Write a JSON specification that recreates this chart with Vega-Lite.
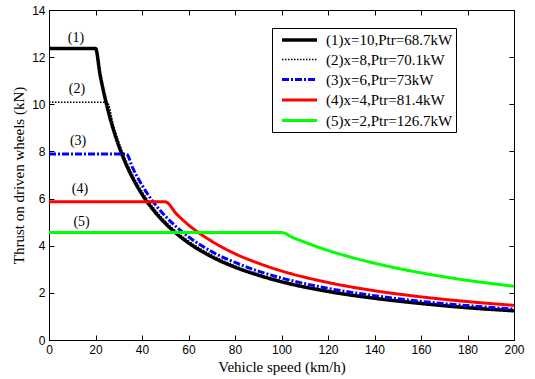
{
  "$schema": "https://vega.github.io/schema/vega-lite/v6.json",
  "width": 465,
  "height": 330,
  "autosize": {"type": "none"},
  "padding": {"left": 49, "top": 10, "right": 21, "bottom": 39},
  "background": "white",
  "config": {
    "view": {"stroke": "black", "strokeWidth": 1},
    "axis": {
      "domainColor": "black", "tickColor": "black", "labelColor": "black", "titleColor": "black",
      "grid": false, "tickSize": -5, "labelFont": "Liberation Sans", "labelFontSize": 12, "labelFlush": false, "labelOverlap": false,
      "titleFont": "Liberation Serif", "titleFontSize": 14, "titleFontWeight": "normal", "labelPadding": 9
    },
    "legend": {
      "labelFont": "Liberation Serif", "labelFontSize": 15, "labelColor": "black",
      "symbolType": "M-1,0H4", "symbolSize": 196, "labelOffset": 28, "padding": 3, "symbolOffset": 5, "rowPadding": 3.5
    }
  },
  "resolve": {"axis": {"x": "independent", "y": "independent"}},
  "datasets": {
    "curves": [
      {"s": "(1)x=10,Ptr=68.7kW", "v": 0, "t": 12.37},
      {"s": "(1)x=10,Ptr=68.7kW", "v": 20, "t": 12.37},
      {"s": "(1)x=10,Ptr=68.7kW", "v": 22, "t": 11.24},
      {"s": "(1)x=10,Ptr=68.7kW", "v": 24, "t": 10.31},
      {"s": "(1)x=10,Ptr=68.7kW", "v": 26, "t": 9.51},
      {"s": "(1)x=10,Ptr=68.7kW", "v": 28, "t": 8.83},
      {"s": "(1)x=10,Ptr=68.7kW", "v": 30, "t": 8.24},
      {"s": "(1)x=10,Ptr=68.7kW", "v": 33, "t": 7.49},
      {"s": "(1)x=10,Ptr=68.7kW", "v": 36, "t": 6.87},
      {"s": "(1)x=10,Ptr=68.7kW", "v": 40, "t": 6.18},
      {"s": "(1)x=10,Ptr=68.7kW", "v": 45, "t": 5.50},
      {"s": "(1)x=10,Ptr=68.7kW", "v": 50, "t": 4.95},
      {"s": "(1)x=10,Ptr=68.7kW", "v": 55, "t": 4.50},
      {"s": "(1)x=10,Ptr=68.7kW", "v": 60, "t": 4.12},
      {"s": "(1)x=10,Ptr=68.7kW", "v": 70, "t": 3.53},
      {"s": "(1)x=10,Ptr=68.7kW", "v": 80, "t": 3.09},
      {"s": "(1)x=10,Ptr=68.7kW", "v": 90, "t": 2.75},
      {"s": "(1)x=10,Ptr=68.7kW", "v": 100, "t": 2.47},
      {"s": "(1)x=10,Ptr=68.7kW", "v": 120, "t": 2.06},
      {"s": "(1)x=10,Ptr=68.7kW", "v": 140, "t": 1.77},
      {"s": "(1)x=10,Ptr=68.7kW", "v": 160, "t": 1.55},
      {"s": "(1)x=10,Ptr=68.7kW", "v": 180, "t": 1.37},
      {"s": "(1)x=10,Ptr=68.7kW", "v": 200, "t": 1.24},

      {"s": "(2)x=8,Ptr=70.1kW", "v": 0, "t": 10.09},
      {"s": "(2)x=8,Ptr=70.1kW", "v": 25, "t": 10.09},
      {"s": "(2)x=8,Ptr=70.1kW", "v": 28, "t": 9.01},
      {"s": "(2)x=8,Ptr=70.1kW", "v": 30, "t": 8.41},
      {"s": "(2)x=8,Ptr=70.1kW", "v": 33, "t": 7.65},
      {"s": "(2)x=8,Ptr=70.1kW", "v": 36, "t": 7.01},
      {"s": "(2)x=8,Ptr=70.1kW", "v": 40, "t": 6.31},
      {"s": "(2)x=8,Ptr=70.1kW", "v": 45, "t": 5.61},
      {"s": "(2)x=8,Ptr=70.1kW", "v": 50, "t": 5.05},
      {"s": "(2)x=8,Ptr=70.1kW", "v": 55, "t": 4.59},
      {"s": "(2)x=8,Ptr=70.1kW", "v": 60, "t": 4.21},
      {"s": "(2)x=8,Ptr=70.1kW", "v": 70, "t": 3.61},
      {"s": "(2)x=8,Ptr=70.1kW", "v": 80, "t": 3.15},
      {"s": "(2)x=8,Ptr=70.1kW", "v": 90, "t": 2.80},
      {"s": "(2)x=8,Ptr=70.1kW", "v": 100, "t": 2.52},
      {"s": "(2)x=8,Ptr=70.1kW", "v": 120, "t": 2.10},
      {"s": "(2)x=8,Ptr=70.1kW", "v": 140, "t": 1.80},
      {"s": "(2)x=8,Ptr=70.1kW", "v": 160, "t": 1.58},
      {"s": "(2)x=8,Ptr=70.1kW", "v": 180, "t": 1.40},
      {"s": "(2)x=8,Ptr=70.1kW", "v": 200, "t": 1.26},

      {"s": "(3)x=6,Ptr=73kW", "v": 0, "t": 7.89},
      {"s": "(3)x=6,Ptr=73kW", "v": 33.3, "t": 7.89},
      {"s": "(3)x=6,Ptr=73kW", "v": 36, "t": 7.30},
      {"s": "(3)x=6,Ptr=73kW", "v": 40, "t": 6.57},
      {"s": "(3)x=6,Ptr=73kW", "v": 45, "t": 5.84},
      {"s": "(3)x=6,Ptr=73kW", "v": 50, "t": 5.26},
      {"s": "(3)x=6,Ptr=73kW", "v": 55, "t": 4.78},
      {"s": "(3)x=6,Ptr=73kW", "v": 60, "t": 4.38},
      {"s": "(3)x=6,Ptr=73kW", "v": 70, "t": 3.75},
      {"s": "(3)x=6,Ptr=73kW", "v": 80, "t": 3.29},
      {"s": "(3)x=6,Ptr=73kW", "v": 90, "t": 2.92},
      {"s": "(3)x=6,Ptr=73kW", "v": 100, "t": 2.63},
      {"s": "(3)x=6,Ptr=73kW", "v": 120, "t": 2.19},
      {"s": "(3)x=6,Ptr=73kW", "v": 140, "t": 1.88},
      {"s": "(3)x=6,Ptr=73kW", "v": 160, "t": 1.64},
      {"s": "(3)x=6,Ptr=73kW", "v": 180, "t": 1.46},
      {"s": "(3)x=6,Ptr=73kW", "v": 200, "t": 1.31},

      {"s": "(4)x=4,Ptr=81.4kW", "v": 0, "t": 5.86},
      {"s": "(4)x=4,Ptr=81.4kW", "v": 50, "t": 5.86},
      {"s": "(4)x=4,Ptr=81.4kW", "v": 55, "t": 5.33},
      {"s": "(4)x=4,Ptr=81.4kW", "v": 60, "t": 4.88},
      {"s": "(4)x=4,Ptr=81.4kW", "v": 65, "t": 4.51},
      {"s": "(4)x=4,Ptr=81.4kW", "v": 70, "t": 4.19},
      {"s": "(4)x=4,Ptr=81.4kW", "v": 80, "t": 3.66},
      {"s": "(4)x=4,Ptr=81.4kW", "v": 90, "t": 3.26},
      {"s": "(4)x=4,Ptr=81.4kW", "v": 100, "t": 2.93},
      {"s": "(4)x=4,Ptr=81.4kW", "v": 120, "t": 2.44},
      {"s": "(4)x=4,Ptr=81.4kW", "v": 140, "t": 2.09},
      {"s": "(4)x=4,Ptr=81.4kW", "v": 160, "t": 1.83},
      {"s": "(4)x=4,Ptr=81.4kW", "v": 180, "t": 1.63},
      {"s": "(4)x=4,Ptr=81.4kW", "v": 200, "t": 1.47},

      {"s": "(5)x=2,Ptr=126.7kW", "v": 0, "t": 4.56},
      {"s": "(5)x=2,Ptr=126.7kW", "v": 100, "t": 4.56},
      {"s": "(5)x=2,Ptr=126.7kW", "v": 105, "t": 4.34},
      {"s": "(5)x=2,Ptr=126.7kW", "v": 110, "t": 4.15},
      {"s": "(5)x=2,Ptr=126.7kW", "v": 120, "t": 3.80},
      {"s": "(5)x=2,Ptr=126.7kW", "v": 130, "t": 3.51},
      {"s": "(5)x=2,Ptr=126.7kW", "v": 140, "t": 3.26},
      {"s": "(5)x=2,Ptr=126.7kW", "v": 150, "t": 3.04},
      {"s": "(5)x=2,Ptr=126.7kW", "v": 160, "t": 2.85},
      {"s": "(5)x=2,Ptr=126.7kW", "v": 170, "t": 2.68},
      {"s": "(5)x=2,Ptr=126.7kW", "v": 180, "t": 2.53},
      {"s": "(5)x=2,Ptr=126.7kW", "v": 190, "t": 2.40},
      {"s": "(5)x=2,Ptr=126.7kW", "v": 200, "t": 2.28}
    ],
    "labels": [
      {"lab": "(1)", "v": 11.6, "t": 12.8},
      {"lab": "(2)", "v": 12.0, "t": 10.63},
      {"lab": "(3)", "v": 12.5, "t": 8.43},
      {"lab": "(4)", "v": 13.3, "t": 6.39},
      {"lab": "(5)", "v": 14.0, "t": 5.0}
    ]
  },
  "layer": [
    {
      "data": {"name": "curves"},
      "mark": {"type": "line", "interpolate": "monotone", "clip": true},
      "encoding": {
        "x": {"field": "v", "type": "quantitative", "scale": {"domain": [0, 200], "nice": false},
              "axis": {"orient": "bottom", "title": "Vehicle speed (km/h)", "titleFont": "Liberation Serif", "titleFontWeight": "normal", "titleFontSize": 15,
                       "labelFlush": false, "values": [0,20,40,60,80,100,120,140,160,180,200], "titlePadding": 4}},
        "y": {"field": "t", "type": "quantitative", "scale": {"domain": [0, 14], "nice": false},
              "axis": {"orient": "left", "title": "Thrust on driven wheels (kN)", "titleFont": "Liberation Serif", "titleFontWeight": "normal", "titleFontSize": 15,
                       "labelFlush": false, "values": [0,2,4,6,8,10,12,14], "titlePadding": 5}},
        "color": {"field": "s", "type": "nominal",
          "scale": {"domain": ["(1)x=10,Ptr=68.7kW", "(2)x=8,Ptr=70.1kW", "(3)x=6,Ptr=73kW", "(4)x=4,Ptr=81.4kW", "(5)x=2,Ptr=126.7kW"],
                    "range": ["#000000", "#000000", "#0000ff", "#ff0000", "#00ff00"]},
          "legend": {"title": null, "orient": "none", "legendX": 223, "legendY": 18,
                     "strokeColor": "black", "fillColor": "white", "labelLimit": 300}},
        "strokeDash": {"field": "s", "type": "nominal",
          "scale": {"domain": ["(1)x=10,Ptr=68.7kW", "(2)x=8,Ptr=70.1kW", "(3)x=6,Ptr=73kW", "(4)x=4,Ptr=81.4kW", "(5)x=2,Ptr=126.7kW"],
                    "range": [[1, 0], [1.5, 1.5], [7, 2, 2, 2], [1, 0], [1, 0]]},
          "legend": {"title": null, "orient": "none", "legendX": 223, "legendY": 18,
                     "strokeColor": "black", "fillColor": "white", "labelLimit": 300}},
        "strokeWidth": {"field": "s", "type": "ordinal",
          "scale": {"type": "ordinal", "domain": ["(1)x=10,Ptr=68.7kW", "(2)x=8,Ptr=70.1kW", "(3)x=6,Ptr=73kW", "(4)x=4,Ptr=81.4kW", "(5)x=2,Ptr=126.7kW"],
                    "range": [3.5, 1.5, 3, 3, 3]},
          "legend": {"title": null, "orient": "none", "legendX": 223, "legendY": 18,
                     "strokeColor": "black", "fillColor": "white", "labelLimit": 300}}
      }
    },
    {
      "data": {"name": "labels"},
      "mark": {"type": "text", "font": "Liberation Serif", "fontSize": 14, "color": "black"},
      "encoding": {
        "x": {"field": "v", "type": "quantitative", "axis": {"orient": "top", "title": null, "labels": false, "domain": false, "values": [0,20,40,60,80,100,120,140,160,180,200]}},
        "y": {"field": "t", "type": "quantitative", "axis": {"orient": "right", "title": null, "labels": false, "domain": false, "values": [0,2,4,6,8,10,12,14]}},
        "text": {"field": "lab"}
      }
    }
  ]
}
